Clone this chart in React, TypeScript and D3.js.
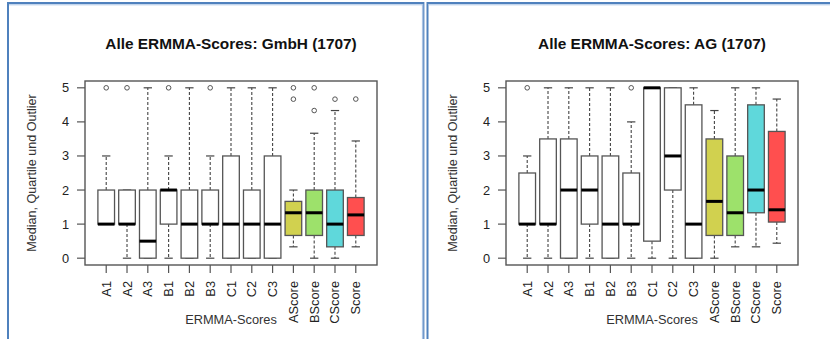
import React from 'react';
import * as d3 from 'd3';

// ERMMA-Scores, boxplot stats: [lower whisker, Q1, median, Q3, upper whisker]
const categories = ['A1', 'A2', 'A3', 'B1', 'B2', 'B3', 'C1', 'C2', 'C3', 'AScore', 'BScore', 'CScore', 'Score'];
const boxFills = ['#ffffff', '#ffffff', '#ffffff', '#ffffff', '#ffffff', '#ffffff', '#ffffff', '#ffffff', '#ffffff', '#d1d14f', '#9de16b', '#5fd8db', '#ff4f4f'];
const yTicks = [0, 1, 2, 3, 4, 5];

const gmbhStats = [
  [1, 1, 1, 2, 3],
  [0, 1, 1, 2, 2],
  [0, 0, 0.5, 2, 5],
  [0, 1, 2, 2, 3],
  [0, 0, 1, 2, 5],
  [0, 1, 1, 2, 3],
  [0, 0, 1, 3, 5],
  [0, 0, 1, 2, 5],
  [0, 0, 1, 3, 5],
  [0.333, 0.667, 1.333, 1.667, 2],
  [0, 0.667, 1.333, 2, 3.667],
  [0, 0.333, 1, 2, 4.333],
  [0.333, 0.667, 1.27, 1.78, 3.44],
];
const gmbhOutliers = [[5], [5], [], [5], [], [5], [], [], [], [4.667, 5], [4.333, 5], [4.667], [4.67]];

const agStats = [
  [0, 1, 1, 2.5, 3],
  [0, 1, 1, 3.5, 5],
  [0, 0, 2, 3.5, 5],
  [0, 1, 2, 3, 5],
  [0, 0, 1, 3, 5],
  [0, 1, 1, 2.5, 4],
  [0, 0.5, 5, 5, 5],
  [0, 2, 3, 5, 5],
  [0, 0, 1, 4.5, 5],
  [0, 0.667, 1.667, 3.5, 4.333],
  [0.333, 0.667, 1.333, 3, 5],
  [0.333, 1.333, 2, 4.5, 5],
  [0.44, 1.06, 1.42, 3.72, 4.67],
];
const agOutliers = [[5], [], [], [], [], [5], [], [], [], [], [], [], []];

const FONT = '"Liberation Sans", Arial, sans-serif';
const frame = { left: 85, right: 377, top: 81, bottom: 265 };

const x = d3.scaleLinear().domain([-0.02, 14.02]).range([frame.left, frame.right]);
const y = d3.scaleLinear().domain([-0.2, 5.2]).range([frame.bottom, frame.top]);
const boxW = (x(1) - x(0)) * 0.8;

const Panel = ({ dx, title, stats, outliers }: { dx: number; title: string; stats: number[][]; outliers: number[][] }) => (
  <g transform={`translate(${dx},0)`} fontFamily={FONT}>
    <text x={(frame.left + frame.right) / 2} y={49} textAnchor="middle" fontWeight="bold" fontSize={15.4} fill="#111">
      {title}
    </text>
    {stats.map((s, i) => {
      const cx = x(i + 1);
      const [lo, q1, med, q3, hi] = s;
      return (
        <g key={categories[i]}>
          <line x1={cx} x2={cx} y1={y(q3)} y2={y(hi)} stroke="#444" strokeWidth={1.1} strokeDasharray="3,2" />
          <line x1={cx} x2={cx} y1={y(q1)} y2={y(lo)} stroke="#444" strokeWidth={1.1} strokeDasharray="3,2" />
          <line x1={cx - boxW / 4} x2={cx + boxW / 4} y1={y(hi)} y2={y(hi)} stroke="#444" strokeWidth={1.2} />
          <line x1={cx - boxW / 4} x2={cx + boxW / 4} y1={y(lo)} y2={y(lo)} stroke="#444" strokeWidth={1.2} />
          <rect x={cx - boxW / 2} y={y(q3)} width={boxW} height={y(q1) - y(q3)} fill={boxFills[i]} stroke="#555" strokeWidth={1.3} />
          <line x1={cx - boxW / 2} x2={cx + boxW / 2} y1={y(med)} y2={y(med)} stroke="#000" strokeWidth={3} />
          {outliers[i].map((o, j) => (
            <circle key={j} cx={cx} cy={y(o)} r={2.3} fill="none" stroke="#555" strokeWidth={1} />
          ))}
        </g>
      );
    })}
    <rect x={frame.left} y={frame.top} width={frame.right - frame.left} height={frame.bottom - frame.top} fill="none" stroke="#555" strokeWidth={1.4} />
    {yTicks.map((t) => (
      <g key={t}>
        <line x1={frame.left - 8} x2={frame.left} y1={y(t)} y2={y(t)} stroke="#555" strokeWidth={1.2} />
        <text x={69} y={y(t) + 4.5} textAnchor="end" fontSize={12.8} fill="#222">{t}</text>
      </g>
    ))}
    {categories.map((c, i) => (
      <g key={c}>
        <line x1={x(i + 1)} x2={x(i + 1)} y1={frame.bottom} y2={frame.bottom + 8} stroke="#555" strokeWidth={1.2} />
        <text transform={`translate(${x(i + 1) + 4.5},281) rotate(-90)`} textAnchor="end" fontSize={12.8} fill="#222">{c}</text>
      </g>
    ))}
    <text transform={`translate(36,${(frame.top + frame.bottom) / 2}) rotate(-90)`} textAnchor="middle" fontSize={12.6} fill="#333">
      Median, Quartile und Outlier
    </text>
    <text x={(frame.left + frame.right) / 2} y={324} textAnchor="middle" fontSize={12.8} fill="#333">
      ERMMA-Scores
    </text>
  </g>
);

export default function App() {
  return (
    <svg width={830} height={339} style={{ position: 'absolute', left: 0, top: 0, background: '#fff' }}>
      {/* panel borders */}
      <line x1={7} x2={424} y1={3} y2={3} stroke="#4f81bd" strokeWidth={2} />
      <line x1={9} x2={422} y1={4.8} y2={4.8} stroke="#a9c3e4" strokeWidth={1} />
      <line x1={8} x2={8} y1={2} y2={339} stroke="#4f81bd" strokeWidth={2} />
      <line x1={422.5} x2={422.5} y1={4} y2={339} stroke="#a9c3e4" strokeWidth={1.2} />
      <line x1={423.8} x2={423.8} y1={2} y2={339} stroke="#4f81bd" strokeWidth={1.2} />
      <line x1={427} x2={830} y1={3} y2={3} stroke="#4f81bd" strokeWidth={2} />
      <line x1={429} x2={830} y1={4.8} y2={4.8} stroke="#a9c3e4" strokeWidth={1} />
      <line x1={427.5} x2={427.5} y1={2} y2={339} stroke="#4f81bd" strokeWidth={2} />
      <Panel dx={0} title="Alle ERMMA-Scores: GmbH (1707)" stats={gmbhStats} outliers={gmbhOutliers} />
      <Panel dx={421} title="Alle ERMMA-Scores: AG (1707)" stats={agStats} outliers={agOutliers} />
    </svg>
  );
}
